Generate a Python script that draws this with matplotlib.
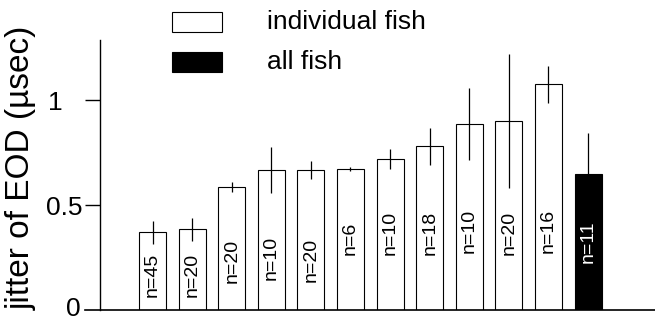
import numpy as np
import matplotlib
matplotlib.use("Agg")
import matplotlib.pyplot as plt
from matplotlib.patches import Rectangle
from matplotlib.transforms import ScaledTranslation

plt.rcParams['font.family'] = ['Liberation Sans', 'DejaVu Sans']

# Data
jitter = [0.37, 0.385, 0.585, 0.665, 0.667, 0.671, 0.72, 0.78, 0.885, 0.90, 1.075, 0.648]
jitter_err = [0.055, 0.055, 0.025, 0.11, 0.045, 0.01, 0.048, 0.087, 0.17, 0.32, 0.088, 0.195]
n_fish = [45, 20, 20, 10, 20, 6, 10, 18, 10, 20, 16, 11]
is_pooled = [False] * 11 + [True]
series_labels = ["individual fish", "all fish"]
ytick_vals = [0, 0.5, 1]
ytick_labels = ["0", "0.5", "1"]

# where the n= labels start inside each bar (data units)
label_y = [0.062, 0.062, 0.128, 0.143, 0.133, 0.262, 0.262, 0.262, 0.27, 0.262, 0.27, 0.224]

fig = plt.figure(figsize=(6.55, 3.2), dpi=100)
ax = fig.add_axes([100 / 655, 10 / 320, 555 / 655, 270 / 320])

x = np.arange(len(jitter))
colors = ['black' if p else 'white' for p in is_pooled]
ax.bar(x, jitter, width=0.68, color=colors, edgecolor='black', linewidth=0.8, zorder=2)
ax.errorbar(x, jitter, yerr=jitter_err, fmt='none', ecolor='black', elinewidth=0.9,
            capsize=0, zorder=3)

for xi, yi, n, p in zip(x, label_y, n_fish, is_pooled):
    ax.text(xi, yi, f"n={n}", rotation=90, ha='center', va='bottom', fontsize=14,
            color='white' if p else 'black', zorder=4)

ax.set_xlim(-1.326, 12.69)
ax.set_ylim(0, 1.286)

ax.spines['top'].set_visible(False)
ax.spines['right'].set_visible(False)
ax.spines['bottom'].set_visible(False)
ax.spines['left'].set_linewidth(1.0)
ax.plot([-0.027, 1], [0, 0], color='black', lw=1.2, transform=ax.transAxes, clip_on=False)

ax.set_xticks([])
ax.set_yticks(ytick_vals)
ax.set_yticklabels(ytick_labels, fontsize=19)
ax.tick_params(axis='y', direction='out', length=10.8, width=1.0, pad=2)
ax.yaxis.get_major_ticks()[0].tick1line.set_visible(False)
# the "1" label sits further left in the original
lab1 = ax.get_yticklabels()[2]
lab1.set_transform(lab1.get_transform() + ScaledTranslation(-20 / 100, 0, fig.dpi_scale_trans))
lab0 = ax.get_yticklabels()[0]
lab0.set_transform(lab0.get_transform() + ScaledTranslation(-2 / 100, 4 / 100, fig.dpi_scale_trans))

fig.text(21 / 655, 1 - 168 / 320, "jitter of EOD (µsec)", rotation=90, ha='center',
         va='center', fontsize=24)

# legend
for (top, fc), lab in zip([(12, 'white'), (52, 'black')], series_labels):
    fig.add_artist(Rectangle((172 / 655, 1 - (top + 20) / 320), 50 / 655, 20 / 320,
                             transform=fig.transFigure, facecolor=fc, edgecolor='black', lw=0.8))
    fig.text(267 / 655, 1 - (top + 10) / 320, lab, ha='left', va='center', fontsize=19)

fig.savefig("out.png", dpi=100)
